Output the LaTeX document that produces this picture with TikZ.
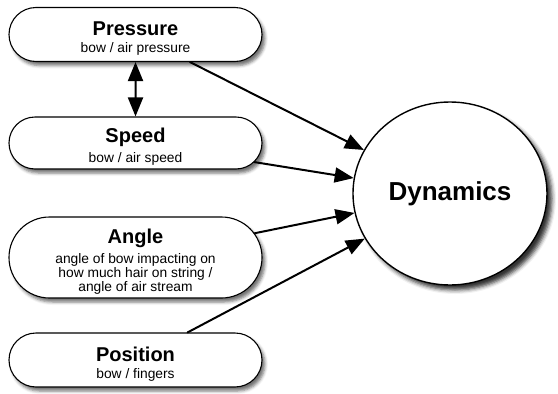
\documentclass[tikz,border=0pt]{standalone}
\usepackage{fontspec}
\setmainfont{Liberation Sans}
\usetikzlibrary{arrows.meta,shapes.misc,shapes.geometric,shadows.blur}

\newcommand{\boxtitle}[1]{{\fontsize{20}{20}\selectfont\bfseries\rule{0pt}{22pt}#1}\\[5pt]}
\newcommand{\boxsub}{\fontsize{13.8}{16.5}\selectfont}

\begin{document}
\begin{tikzpicture}[line cap=round,line join=round,x=1pt,y=-1pt,
    >={Triangle[length=19pt,width=15pt]},
    factor/.style={rounded rectangle,draw=black,line width=1.1pt,fill=white,minimum width=255pt,align=center,inner sep=1pt,
      blur shadow={shadow xshift=3pt,shadow yshift=-4pt,shadow blur radius=3pt,shadow opacity=55}},
    result/.style={ellipse,draw=black,line width=1.4pt,fill=white,minimum width=194pt,minimum height=183pt,inner sep=0pt,
      blur shadow={shadow xshift=5pt,shadow yshift=-5pt,shadow blur radius=4pt,shadow opacity=80}},
    link/.style={->,line width=2pt}]
  \useasboundingbox (0,0) rectangle (558,394);
  \node[factor,minimum height=54pt] (pressure) at (135.5,34.5) {\boxtitle{Pressure}\boxsub bow / air pressure};
  \node[factor,minimum height=52pt] (speed) at (135.5,143) {\boxtitle{Speed}\boxsub bow / air speed};
  \node[factor,minimum height=81pt] (angle) at (135.5,257.5) {\boxtitle{Angle}\boxsub angle of bow impacting on\\ \boxsub how much hair on string /\\ \boxsub angle of air stream};
  \node[factor,minimum height=54pt] (position) at (135.5,360) {\boxtitle{Position}\boxsub bow / fingers};
  \node[result] (dynamics) at (450,193.5) {\fontsize{26}{26}\selectfont\bfseries Dynamics};
  \draw[link,<->] (pressure) -- (speed);
  \draw[link] (pressure) -- (dynamics);
  \draw[link] (speed) -- (dynamics);
  \draw[link] (angle) -- (dynamics);
  \draw[link] (position) -- (dynamics);
\end{tikzpicture}
\end{document}
